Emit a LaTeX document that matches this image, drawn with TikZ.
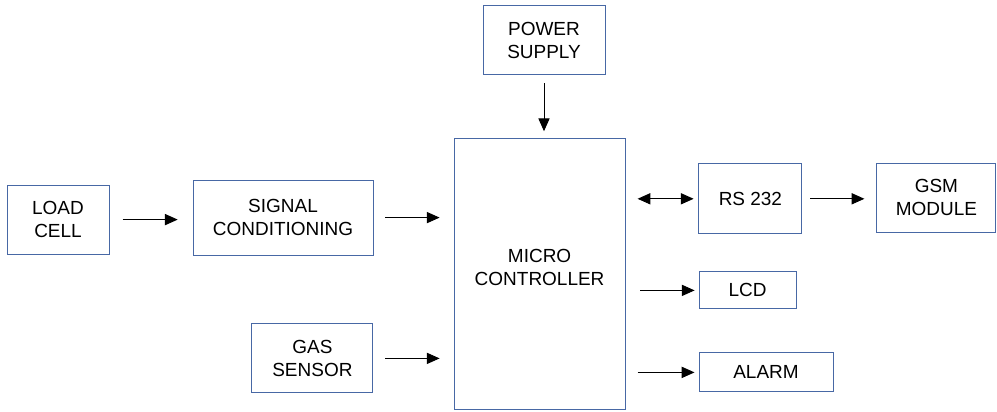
\documentclass[tikz,border=0pt]{standalone}
\usepackage{fontspec}
\setmainfont{Liberation Sans}
\usetikzlibrary{arrows.meta}
\definecolor{boxblue}{RGB}{72,104,165}
\begin{document}
\begin{tikzpicture}
  \tikzset{blk/.style={draw=boxblue,line width=0.7pt,rectangle,align=center,inner sep=0pt,
      font=\fontsize{13.5}{16.1}\selectfont},
    ar/.style={line width=0.7pt,-{Triangle[length=0.32cm,width=0.28cm]}},
    dar/.style={line width=0.7pt,{Triangle[length=0.32cm,width=0.28cm]}-{Triangle[length=0.32cm,width=0.28cm]}}}
  \useasboundingbox (0,0) rectangle (24.925,10.3);
  \node[blk,minimum width=2.55cm,minimum height=1.725cm] (load) at (1.45,4.81) {LOAD\\CELL};
  \node[blk,minimum width=4.5cm,minimum height=1.875cm] (sig) at (7.075,4.86) {SIGNAL\\CONDITIONING};
  \node[blk,minimum width=3.025cm,minimum height=1.725cm] (gas) at (7.81,1.34) {GAS\\SENSOR};
  \node[blk,minimum width=3.05cm,minimum height=1.725cm] (pwr) at (13.6,9.29) {POWER\\SUPPLY};
  \node[blk,minimum width=4.275cm,minimum height=6.775cm] (mcu) at (13.49,3.44) {MICRO\\CONTROLLER\\[-0.22cm]};
  \node[blk,minimum width=2.575cm,minimum height=1.75cm] (rs) at (18.76,5.33) {RS 232};
  \node[blk,minimum width=2.975cm,minimum height=1.725cm] (gsm) at (23.41,5.36) {GSM\\MODULE};
  \node[blk,minimum width=2.425cm,minimum height=0.925cm] (lcd) at (18.69,3.04) {LCD};
  \node[blk,minimum width=3.35cm,minimum height=0.975cm] (alarm) at (19.15,0.99) {ALARM};
  \draw[ar,shorten <=0.33cm,shorten >=0.37cm] (load.east) -- (load.east -| sig.west);
  \draw[ar,shorten <=0.3cm,shorten >=0.35cm] (sig.east) -- (sig.east -| mcu.west);
  \draw[ar,shorten <=0.3cm,shorten >=0.35cm] (gas.east) -- (gas.east -| mcu.west);
  \draw[ar,shorten <=0.2cm,shorten >=0.18cm] (pwr.south) -- (pwr.south |- mcu.north);
  \draw[dar,shorten <=0.3cm,shorten >=0.12cm] (rs.west -| mcu.east) -- (rs.west);
  \draw[ar,shorten <=0.2cm,shorten >=0.3cm] (rs.east) -- (rs.east -| gsm.west);
  \draw[ar,shorten <=0.37cm,shorten >=0.1cm] (lcd.west -| mcu.east) -- (lcd.west);
  \draw[ar,shorten <=0.3cm,shorten >=0.1cm] (alarm.west -| mcu.east) -- (alarm.west);
\end{tikzpicture}
\end{document}
